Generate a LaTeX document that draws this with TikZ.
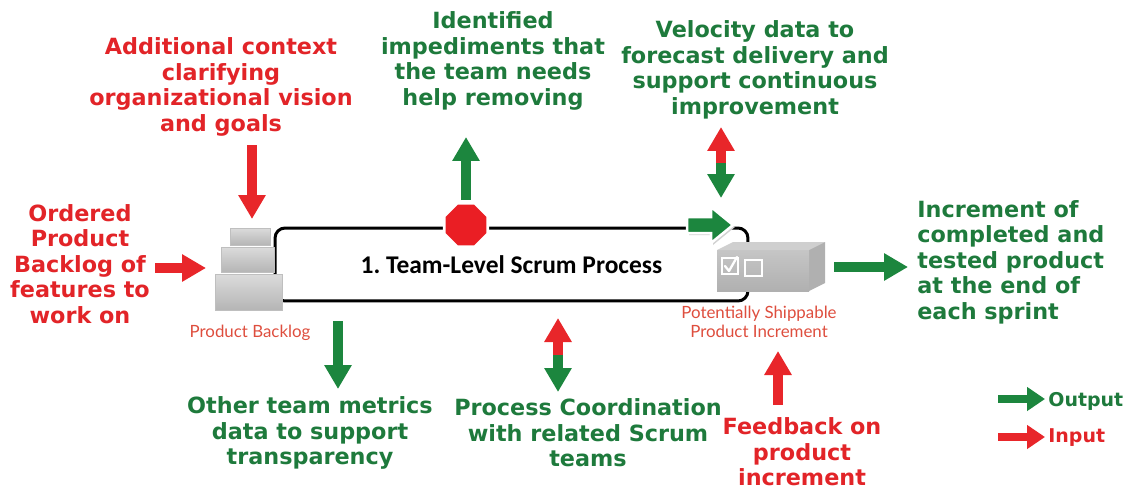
\documentclass[tikz,border=0pt]{standalone}
\usepackage{fontspec}
\setmainfont{DejaVu Sans}
\newfontfamily\titlefont{Carlito}
\newfontfamily\labelfont{Lato}
\usetikzlibrary{arrows.meta,shapes.geometric,calc}

\definecolor{noteRed}{RGB}{226,36,40}
\definecolor{noteGreen}{RGB}{30,122,60}
\definecolor{arrowRed}{RGB}{232,38,42}
\definecolor{arrowGreen}{RGB}{28,134,62}
\definecolor{labelRed}{RGB}{222,78,62}
\definecolor{stopRed}{RGB}{234,30,36}

\tikzset{
  note/.style={font=\bfseries\fontsize{12.7}{14.5}\selectfont, align=center, inner sep=0pt},
  innote/.style={note, text=noteRed},
  outnote/.style={note, text=noteGreen},
  fatarrow/.style={line width=0.2cm, line cap=butt, -{Triangle[width=0.52cm,length=0.48cm]}},
  inarrow/.style={fatarrow, draw=arrowRed},
  outarrow/.style={fatarrow, draw=arrowGreen},
  keyarrow/.style={line width=0.17cm, line cap=butt, -{Triangle[width=0.46cm,length=0.36cm]}},
  stackbox/.style={top color=gray!28, bottom color=gray!58, draw=gray!50, line width=0.4pt},
  artefact/.style={font=\labelfont\fontsize{9.6}{10.8}\selectfont, text=labelRed, align=center, inner sep=0pt},
}

\begin{document}
\frenchspacing
\begin{tikzpicture}[x=0.02cm,y=-0.02cm]
\useasboundingbox (0,0) rectangle (1131,490);

% the team-level process frame
\node[draw, line width=0.06cm, rounded corners=0.2cm, minimum width=9.46cm, minimum height=1.46cm,
      font=\titlefont\bfseries\fontsize{14.5}{16}\selectfont] (process) at (511.5,264.5)
      {1. Team-Level Scrum Process};

% product backlog: a stack of three boxes
\shade[stackbox] (215,274) rectangle (282,310);
\shade[stackbox] (221,247) rectangle (274,272);
\shade[stackbox] (230,228) rectangle (270,245);
\coordinate (backlog) at (248,228);
\coordinate (backlogW) at (215,268);
\node[artefact] (backlogLabel) at (250,333) {Product Backlog};

% potentially shippable increment: a flat box with two check boxes
\fill[gray!38] (717,250) -- (733,242) -- (825,242) -- (809,250) -- cycle;
\fill[gray!62] (809,250) -- (825,242) -- (825,283) -- (809,291) -- cycle;
\shade[top color=gray!45, bottom color=gray!62] (717,250) rectangle (809,291);
\draw[white, line width=0.9pt] (722,258) rectangle (738,274);
\draw[white, line width=0.9pt] (745,260) rectangle (762,276);
\draw[white, line width=1.3pt, line cap=round, line join=round] (725,266) -- (729,271) -- (737,257);
\coordinate (increment) at (778,291);
\coordinate (incrementE) at (831,267);
\node[artefact] (incrementLabel) at (759,322) {Potentially Shippable\\Product Increment};

% impediment stop sign on the frame
\node[regular polygon, regular polygon sides=8, minimum size=0.94cm, inner sep=0pt,
      fill=stopRed, draw=white, line width=1.6pt] (stop) at (466,225) {};

% hand-off arrow into the increment
\fill[gray!35] (689,219) -- (713,219) -- (713,209) -- (735,227) -- (713,245) -- (713,235) -- (689,235) -- cycle;
\filldraw[fill=arrowGreen, draw=white, line width=0.05cm, line join=miter]
  (687,217) -- (711,217) -- (711,207) -- (733,225) -- (711,243) -- (711,233) -- (687,233) -- cycle;

% notes
\node[innote] (context) at (221,87) {Additional context\\clarifying\\organizational vision\\and goals};
\node[innote] (ordered) at (80,264) {Ordered\\Product\\Backlog of\\features to\\work on};
\node[outnote] (impediments) at (493,61) {Identified\\impediments that\\the team needs\\help removing};
\node[outnote] (velocity) at (755,70) {Velocity data to\\forecast delivery and\\support continuous\\improvement};
\node[outnote, align=left, anchor=west] (product) at (917,262) {Increment of\\completed and\\tested product\\at the end of\\each sprint};
\node[outnote] (metrics) at (310,433) {Other team metrics\\data to support\\transparency};
\node[outnote] (coordination) at (588,433) {Process Coordination\\with related Scrum\\teams};
\node[innote] (feedback) at (802,452) {Feedback on\\product\\increment};

% inputs
\coordinate (ctxTail) at (252,145);
\coordinate (ctxHead) at (252,219);
\draw[inarrow] (ctxTail) -- (ctxHead);
\coordinate (ordTail) at (155,268);
\coordinate (ordHead) at (206,268);
\draw[inarrow] (ordTail) -- (ordHead);
\coordinate (fbTail) at (778,405);
\coordinate (fbHead) at (778,351);
\draw[inarrow] (fbTail) -- (fbHead);

% outputs
\coordinate (impTail) at (466,200);
\coordinate (impHead) at (466,137);
\draw[outarrow] (impTail) -- (impHead);
\coordinate (metTail) at (338,321);
\coordinate (metHead) at (338,389);
\draw[outarrow] (metTail) -- (metHead);
\coordinate (prodTail) at (834,267);
\coordinate (prodHead) at (908,267);
\draw[outarrow] (prodTail) -- (prodHead);

% two-way exchanges: red half in, green half out
\coordinate (velTop) at (721,127);
\coordinate (velMid) at (721,163);
\coordinate (velBot) at (721,198);
\draw[inarrow] (velMid) -- (velTop);
\draw[outarrow] (velMid) -- (velBot);
\coordinate (coTop) at (558,318);
\coordinate (coMid) at (558,355);
\coordinate (coBot) at (558,392);
\draw[inarrow] (coMid) -- (coTop);
\draw[outarrow] (coMid) -- (coBot);

% key
\coordinate (keyOutTail) at (998,399);
\coordinate (keyOutHead) at (1045,399);
\coordinate (keyInTail) at (998,437);
\coordinate (keyInHead) at (1045,437);
\draw[keyarrow, draw=arrowGreen] (keyOutTail) -- (keyOutHead);
\draw[keyarrow, draw=arrowRed] (keyInTail) -- (keyInHead);
\node[font=\bfseries\fontsize{10.8}{12}\selectfont, text=noteGreen, anchor=west, inner sep=0pt] (keyOut) at (1048,401) {Output};
\node[font=\bfseries\fontsize{10.8}{12}\selectfont, text=noteRed, anchor=west, inner sep=0pt] (keyIn) at (1048,438) {Input};
\end{tikzpicture}
\end{document}
